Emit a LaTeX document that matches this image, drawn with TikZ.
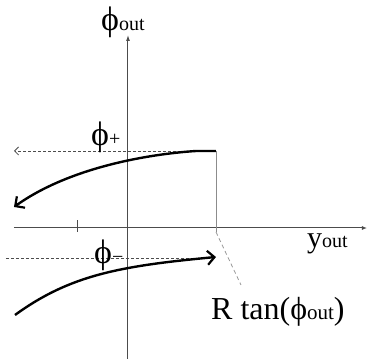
\documentclass[tikz,border=0pt]{standalone}
\usepackage{fontspec}
\setmainfont{Liberation Serif}
\usetikzlibrary{arrows.meta}
\newcommand\bigsz{\fontsize{30}{32}\selectfont}
\newcommand\rsz{\fontsize{32}{34}\selectfont}
\newcommand\phisz{\fontsize{34}{36}\selectfont}
\newcommand\subsz[1]{{\fontsize{20}{20}\selectfont #1}}
\newcommand\subrsz[1]{{\fontsize{21}{21}\selectfont #1}}
\begin{document}
\begin{tikzpicture}[x=1pt,y=1pt,
  axis/.style={draw=black!70,line width=1pt},
  guide/.style={draw=black!70,line width=0.8pt,dash pattern=on 3pt off 2pt},
  thinline/.style={draw=black!45,line width=0.6pt},
  greydash/.style={draw=black!40,line width=0.8pt,dash pattern=on 4pt off 3pt},
  curve/.style={draw=black,line width=2.4pt,-{Straight Barb[length=7pt,width=14pt,line width=2.2pt]}},
  lbl/.style={inner sep=0pt,anchor=base west,text=black}]
\useasboundingbox (0,0) rectangle (368,359);
% axes
\coordinate (vb) at (128,0);
\coordinate (vt) at (128,324);
\coordinate (hl) at (14,131);
\coordinate (hr) at (367,131);
\draw[axis,-{Latex[length=6pt,width=4pt]}] (vb) -- (vt);
\draw[axis,-{Latex[length=5pt,width=4pt]}] (hl) -- (hr);
\coordinate (t1a) at (78,127); \coordinate (t1b) at (78,139);
\draw[axis] (t1a) -- (t1b);
% key points
\coordinate (A) at (216,208);
\coordinate (Ab) at (216,127);
\coordinate (A2) at (196,208);
\coordinate (U) at (14,152);
\coordinate (UL) at (14,208);
\coordinate (B) at (216,102);
\coordinate (L0) at (15,44);
\coordinate (DL) at (6,101);
\coordinate (DR) at (205,101);
\coordinate (G) at (241,74);
\draw[thinline] (A) -- (Ab);
\draw[guide,-{Straight Barb[length=4pt,width=8pt,line width=0.8pt]}] (A) -- (UL);
\draw[guide] (DL) -- (DR);
\draw[greydash] (Ab) -- (G);
% curves
\draw[curve] (A) -- (A2) .. controls (150,205) and (70,192) .. (U);
\draw[curve] (L0) .. controls (70,84) and (120,93) .. (B);
% labels
\node[lbl] (phiout) at (101,328) {\phisz ϕ\subsz{out}};
\node[lbl] (phip) at (91,213) {\phisz ϕ\subsz{+}};
\node[lbl] (phim) at (94,95) {\phisz ϕ\subsz{−}};
\node[lbl] (yout) at (307,111) {\bigsz y\subsz{out}};
\node[lbl] (rtan) at (211,39) {\rsz R tan(ϕ\subrsz{out})};
\end{tikzpicture}
\end{document}
